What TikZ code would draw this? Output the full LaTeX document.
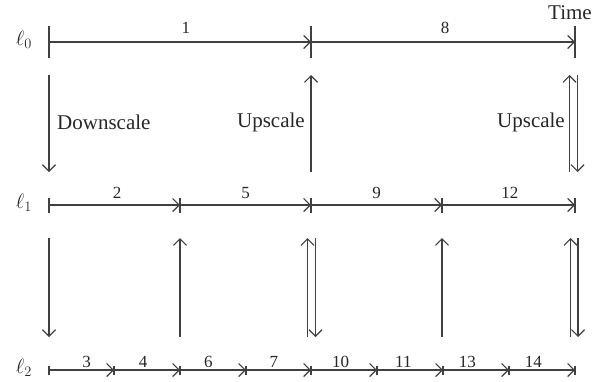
\documentclass[tikz,border=0pt]{standalone}
\usepackage{fontspec}
\setmainfont{Liberation Serif}
\usetikzlibrary{arrows.meta}
\begin{document}
\begin{tikzpicture}[x=1pt,y=-1pt,
  ln/.style={draw=black!75, line width=1.2pt},
  seg/.style={ln, -{Straight Barb[length=6.5pt,width=13pt]}},
  varr/.style={ln, -{Straight Barb[length=6.5pt,width=13pt]}},
  num/.style={font=\fontsize{17}{19}\selectfont, anchor=base, inner sep=0pt, text=black!85},
  word/.style={font=\fontsize{21}{23}\selectfont, inner sep=0pt, text=black!85},
  lev/.style={font=\fontsize{22}{24}\selectfont, inner sep=0pt, text=black!85},
]
\useasboundingbox (0,0) rectangle (602,381);
% time points
\coordinate (A0) at (49,42);  \coordinate (A1) at (311,42); \coordinate (A2) at (575,42);
\coordinate (B0) at (49,205); \coordinate (B1) at (180,205); \coordinate (B2) at (311,205);
\coordinate (B3) at (442,205); \coordinate (B4) at (575,205);
\foreach \i/\x in {0/49,1/114,2/180,3/246,4/311,5/377,6/443,7/509,8/575}
  \coordinate (C\i) at (\x,370);
% level labels
\node[lev] (l0) at (24,40) {$\ell_0$};
\node[lev] (l1) at (24,203) {$\ell_1$};
\node[lev] (l2) at (24,368) {$\ell_2$};
\node[word] (time) at (570,13) {Time};
% level 0
\draw[seg] (A0) -- node[num, pos=0.522, yshift=9pt] {1} (A1);
\draw[seg] (A1) -- node[num, pos=0.508, yshift=9pt] {8} (A2);
\foreach \p in {A0,A1,A2} \draw[ln] ([yshift=16pt]\p) -- ([yshift=-16pt]\p);
% level 1
\draw[seg] (B0) -- node[num, pos=0.52, yshift=7pt] {2} (B1);
\draw[seg] (B1) -- node[num, pos=0.5, yshift=7pt] {5} (B2);
\draw[seg] (B2) -- node[num, pos=0.5, yshift=7pt] {9} (B3);
\draw[seg] (B3) -- node[num, pos=0.51, yshift=7pt] {12} (B4);
\foreach \p in {B0,B1,B2,B3,B4} \draw[ln] ([yshift=7.5pt]\p) -- ([yshift=-7.5pt]\p);
% level 2
\draw[seg] (C0) -- node[num, pos=0.58, yshift=3pt] {3} (C1);
\draw[seg] (C1) -- node[num, pos=0.44, yshift=3pt] {4} (C2);
\draw[seg] (C2) -- node[num, pos=0.43, yshift=3pt] {6} (C3);
\draw[seg] (C3) -- node[num, pos=0.43, yshift=3pt] {7} (C4);
\draw[seg] (C4) -- node[num, pos=0.45, yshift=3pt] {10} (C5);
\draw[seg] (C5) -- node[num, pos=0.40, yshift=3pt] {11} (C6);
\draw[seg] (C6) -- node[num, pos=0.37, yshift=3pt] {13} (C7);
\draw[seg] (C7) -- node[num, pos=0.37, yshift=3pt] {14} (C8);
\foreach \p in {C0,C1,C2,C3,C4,C5,C6,C7,C8} \draw[ln] ([yshift=4.5pt]\p) -- ([yshift=-4.5pt]\p);
% vertical arrows, level 0 -> 1
\coordinate (d0t) at (49,75);  \coordinate (d0b) at (49,172);
\coordinate (u0b) at (311,172); \coordinate (u0t) at (311,75);
\coordinate (u1b) at (569.5,172); \coordinate (u1t) at (569.5,75);
\coordinate (d1t) at (577.5,75); \coordinate (d1b) at (577.5,172);
\draw[varr] (d0t) -- (d0b);
\draw[varr] (u0b) -- (u0t);
\draw[varr] (u1b) -- (u1t);
\draw[varr] (d1t) -- (d1b);
\node[word, anchor=west] (down) at (57,122) {Downscale};
\node[word, anchor=east] (up1) at (305,122) {Upscale};
\node[word, anchor=east] (up2) at (565,122) {Upscale};
% vertical arrows, level 1 -> 2
\coordinate (e0t) at (49,238);  \coordinate (e0b) at (49,337);
\coordinate (e1b) at (180,337); \coordinate (e1t) at (180,238);
\coordinate (e2b) at (307.5,337); \coordinate (e2t) at (307.5,238);
\coordinate (e3t) at (315.5,238); \coordinate (e3b) at (315.5,337);
\coordinate (e4b) at (442,337); \coordinate (e4t) at (442,238);
\coordinate (e5b) at (570.5,337); \coordinate (e5t) at (570.5,238);
\coordinate (e6t) at (578,238); \coordinate (e6b) at (578,337);
\draw[varr] (e0t) -- (e0b);
\draw[varr] (e1b) -- (e1t);
\draw[varr] (e2b) -- (e2t);
\draw[varr] (e3t) -- (e3b);
\draw[varr] (e4b) -- (e4t);
\draw[varr] (e5b) -- (e5t);
\draw[varr] (e6t) -- (e6b);
\end{tikzpicture}
\end{document}
